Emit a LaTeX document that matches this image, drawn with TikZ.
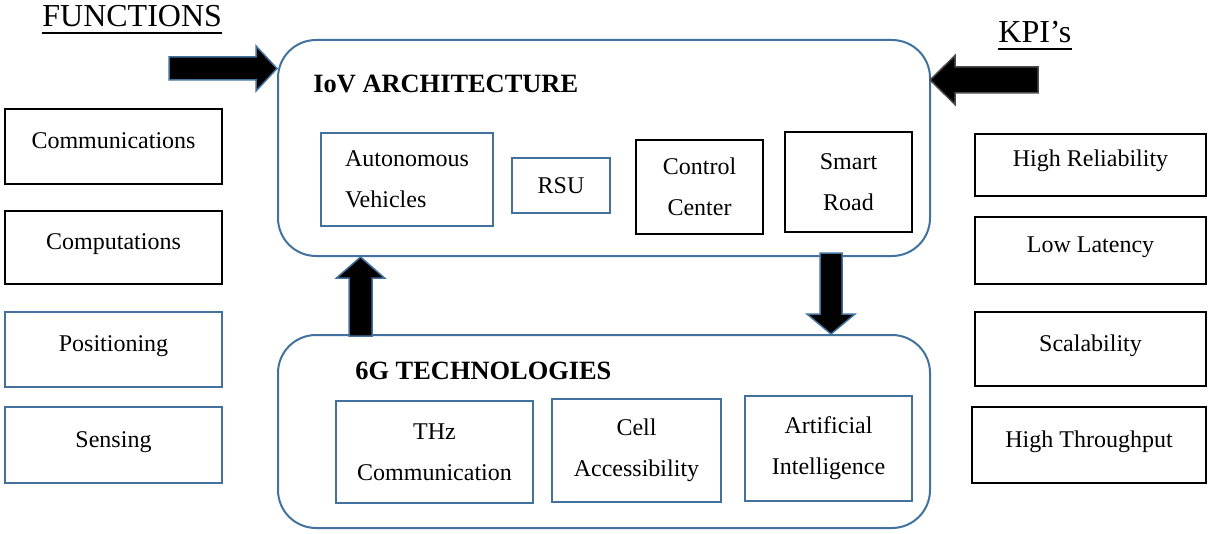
\documentclass[tikz,border=0pt]{standalone}
\usepackage{fontspec}
\setmainfont{Liberation Serif}
\usetikzlibrary{positioning,calc}

\definecolor{boxblue}{RGB}{65,113,156}

\tikzset{
	item/.style={draw, line width=1pt, inner sep=0pt, align=center,
		font=\fontsize{12}{20.5}\selectfont},
	oneline/.style={item, text height=9pt, text depth=7pt},
	group/.style={draw=boxblue, line width=1pt, rounded corners=19pt},
	heading/.style={inner sep=0pt, anchor=base west, font=\fontsize{16}{19}\selectfont},
	title/.style={inner sep=0pt, anchor=base west, font=\fontsize{13.2}{16}\selectfont\bfseries},
	blockarrow/.style={fill=black, draw=boxblue, line width=0.75pt, line join=miter},
}

\begin{document}
\begin{tikzpicture}[x=0.5pt, y=-0.5pt]
			\useasboundingbox (0,0) rectangle (1208,534);

			% Draw the two big groups
			\node[group, minimum width=326pt, minimum height=108pt] (iov) at (604,148) {};
			\node[group, minimum width=326pt, minimum height=96.5pt] (tech) at (604,431.5) {};

			\node[title] (iovtitle) at (313,93) {IoV ARCHITECTURE};
			\node[title] (techtitle) at (355,379) {6G TECHNOLOGIES};

			% Draw the boxes inside the architecture
			\node[item, draw=boxblue, align=left, minimum width=86pt, minimum height=46.5pt] (av) at (407,179.5) {Autonomous\\Vehicles};
			\node[item, draw=boxblue, minimum width=49pt, minimum height=27.5pt] (rsu) at (561,185.5) {RSU};
			\node[item, minimum width=63.5pt, minimum height=47pt] (cc) at (699.5,187) {Control\\Center};
			\node[item, minimum width=63.5pt, minimum height=50pt] (sr) at (848.5,182) {Smart\\Road};

			% Draw the boxes inside the technologies
			\node[item, draw=boxblue, minimum width=98.5pt, minimum height=51pt] (thz) at (434.5,452) {THz\\Communication};
			\node[item, draw=boxblue, minimum width=84.5pt, minimum height=51.5pt] (cell) at (636.5,450.5) {Cell\\Accessibility};
			\node[item, draw=boxblue, minimum width=83.5pt, minimum height=52.5pt] (ai) at (828.5,448) {Artificial\\Intelligence};

			% Functions on the left
			\node[heading] (fntitle) at (42,27) {FUNCTIONS};
			\draw[line width=1pt] ($(fntitle.base west)+(0,6.5)$) -- ($(fntitle.base east)+(0,6.5)$);

			\node[oneline, minimum width=108.5pt, minimum height=37.5pt] (comm) at (113.5,146.5) {Communications};
			\node[oneline, minimum width=108.5pt, minimum height=36.5pt] (comp) at (113.5,247.5) {Computations};
			\node[oneline, draw=boxblue, minimum width=108.5pt, minimum height=37.5pt] (pos) at (113.5,349.5) {Positioning};
			\node[oneline, draw=boxblue, minimum width=108.5pt, minimum height=38pt] (sens) at (113.5,445) {Sensing};

			% KPI's on the right
			\node[heading] (kpititle) at (998,43) {KPI's};
			\draw[line width=1pt] ($(kpititle.base west)+(0,6)$) -- ($(kpititle.base east)+(0,6)$);

			\node[oneline, minimum width=115.5pt, minimum height=31pt] (rel) at (1090.5,165) {High Reliability};
			\node[oneline, minimum width=115.5pt, minimum height=33.5pt] (lat) at (1090.5,250.5) {Low Latency};
			\node[oneline, minimum width=115.5pt, minimum height=37pt] (scal) at (1090.5,349) {Scalability};
			\node[oneline, minimum width=117pt, minimum height=38pt] (thr) at (1089,445) {High Throughput};

			% Draw the block arrows
			\coordinate (fntip) at ($(iov.north west)+(0,29.5)$);
			\coordinate (kpitip) at ($(iov.north east)+(-1,41)$);
			\coordinate (uptip) at ($(iov.south west)+(83.5,0)$);
			\coordinate (dntip) at ($(tech.north west)+(554,0)$);

			\draw[blockarrow] (fntip) -- ++(-21,-22.5) -- ++(0,11) -- ++(-87,0) -- ++(0,23)
				-- ++(87,0) -- ++(0,11) -- cycle;
			\draw[blockarrow, draw=black!70] (kpitip) -- ++(25,-24.5) -- ++(0,11.5) -- ++(83,0) -- ++(0,26)
				-- ++(-83,0) -- ++(0,11.5) -- cycle;
			\draw[blockarrow] (uptip) -- ++(24,21) -- ++(-12.5,0) -- ++(0,58) -- ++(-23,0)
				-- ++(0,-58) -- ++(-12.5,0) -- cycle;
			\draw[blockarrow] (dntip) -- ++(-24,-20) -- ++(13,0) -- ++(0,-61) -- ++(22,0)
				-- ++(0,61) -- ++(13,0) -- cycle;

		\end{tikzpicture}
\end{document}
